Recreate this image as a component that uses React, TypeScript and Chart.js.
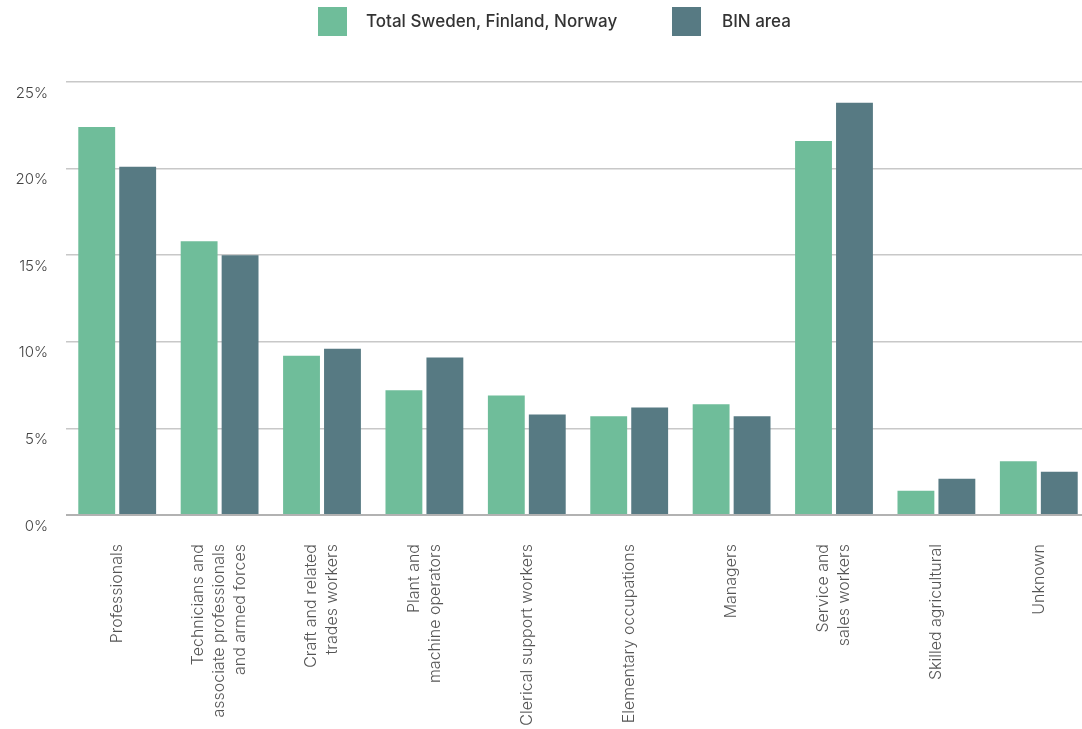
import React, { useEffect, useRef } from "react";
import { Chart, registerables } from "chart.js";

Chart.register(...registerables);

// Occupation groups, one label line per array entry
const categories: string[][] = [
  ["Professionals"],
  ["Technicians and", "associate professionals", "and armed forces"],
  ["Craft and related", "trades workers"],
  ["Plant and", "machine operators"],
  ["Clerical support workers"],
  ["Elementary occupations"],
  ["Managers"],
  ["Service and", "sales workers"],
  ["Skilled agricultural"],
  ["Unknown"],
];

// Share of employed (%)
const totalNordic: number[] = [22.4, 15.8, 9.2, 7.2, 6.9, 5.7, 6.4, 21.6, 1.4, 3.1];
const binArea: number[] = [20.1, 15.0, 9.6, 9.1, 5.8, 6.2, 5.7, 23.8, 2.1, 2.5];

const seriesNames = ["Total Sweden, Finland, Norway", "BIN area"];
const seriesColors = ["#6fbd9a", "#577a83"];

const yTicks = { min: 0, max: 25, step: 5 };

const FONT = "Inter, 'Noto Sans', sans-serif";

// Draws the rotated, multi-line category labels centred on each tick
const categoryLabels = {
  id: "categoryLabels",
  afterDraw(chart: any) {
    const { ctx } = chart;
    const xScale = chart.scales.x;
    const top = chart.chartArea.bottom + 29;
    const lineHeight = 21;
    ctx.save();
    ctx.font = `300 16px ${FONT}`;
    ctx.fillStyle = "#555";
    ctx.textAlign = "right";
    ctx.textBaseline = "middle";
    categories.forEach((lines, i) => {
      const x = xScale.getPixelForValue(i);
      ctx.save();
      ctx.translate(x, top);
      ctx.rotate(-Math.PI / 2);
      lines.forEach((line, j) => {
        const off = (j - (lines.length - 1) / 2) * lineHeight;
        ctx.fillText(line, 0, off);
      });
      ctx.restore();
    });
    ctx.restore();
  },
};

function Legend() {
  const items = [
    { left: 318, textLeft: 366 },
    { left: 672, textLeft: 722 },
  ];
  return (
    <>
      {items.map((it, i) => (
        <React.Fragment key={i}>
          <div
            style={{
              position: "absolute",
              left: it.left,
              top: 7,
              width: 29,
              height: 29,
              background: seriesColors[i],
            }}
          />
          <div
            style={{
              position: "absolute",
              left: it.textLeft,
              top: 7,
              height: 29,
              lineHeight: "29px",
              fontFamily: FONT,
              fontSize: 17,
              fontWeight: 500,
              color: "#333",
              whiteSpace: "nowrap",
            }}
          >
            {seriesNames[i]}
          </div>
        </React.Fragment>
      ))}
    </>
  );
}

export default function App() {
  const canvasRef = useRef<HTMLCanvasElement | null>(null);

  useEffect(() => {
    if (!canvasRef.current) return;
    const chart = new Chart(canvasRef.current, {
      type: "bar",
      data: {
        labels: categories.map((c) => c.join(" ")),
        datasets: [
          {
            label: seriesNames[0],
            data: totalNordic,
            backgroundColor: seriesColors[0],
            categoryPercentage: 0.8,
            barPercentage: 0.9,
          },
          {
            label: seriesNames[1],
            data: binArea,
            backgroundColor: seriesColors[1],
            categoryPercentage: 0.8,
            barPercentage: 0.9,
          },
        ],
      },
      options: {
        responsive: false,
        animation: false,
        devicePixelRatio: 1,
        layout: { padding: { top: 82, right: 2, left: 0, bottom: 0 } },
        plugins: {
          legend: { display: false },
          tooltip: { enabled: false },
        },
        scales: {
          x: {
            grid: { display: false, drawTicks: false },
            border: { display: false },
            ticks: { display: false },
            afterFit(scale: any) {
              scale.height = 214;
            },
          },
          y: {
            min: yTicks.min,
            max: yTicks.max,
            border: { display: false },
            grid: {
              drawTicks: false,
              color: (c: any) => (c.tick && c.tick.value === 0 ? "#b2b2b2" : "#c8c8c8"),
              lineWidth: (c: any) => (c.tick && c.tick.value === 0 ? 2 : 1.5),
            },
            ticks: {
              stepSize: yTicks.step,
              padding: 18,
              labelOffset: 11,
              color: "#444",
              font: { family: FONT, size: 15, weight: 300 as any },
              callback: (v: any) => `${v}%`,
            },
            afterFit(scale: any) {
              scale.width = 66;
            },
          },
        },
      },
      plugins: [categoryLabels],
    });
    return () => chart.destroy();
  }, []);

  return (
    <div
      style={{
        position: "fixed",
        left: 0,
        top: 0,
        width: 1082,
        height: 729,
        overflow: "hidden",
        background: "#fff",
      }}
    >
      <canvas ref={canvasRef} width={1092} height={729} style={{ position: "absolute", left: 0, top: 0 }} />
      <Legend />
    </div>
  );
}
